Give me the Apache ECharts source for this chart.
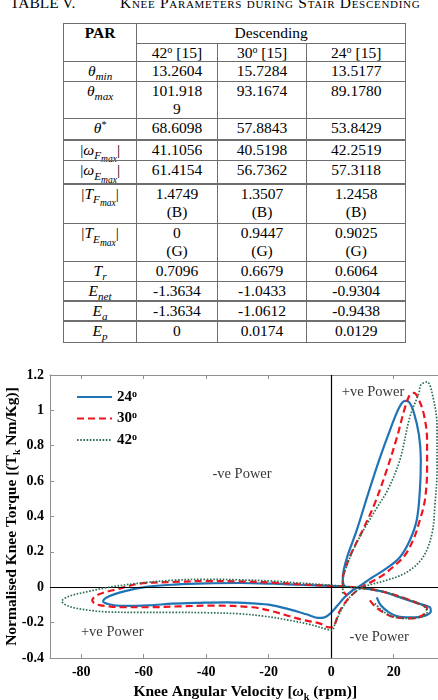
<!DOCTYPE html>
<html>
<head>
<meta charset="utf-8">
<script src="https://cdn.jsdelivr.net/npm/echarts@6/dist/echarts.min.js"></script>
<style>
html, body { margin: 0; padding: 0; width: 438px; height: 700px; overflow: hidden; background: #fff; }
body { position: relative; font-family: 'Liberation Serif', 'Times New Roman', serif; color: #000; }
.cap { position: absolute; top: -5px; font-family: 'Liberation Serif', serif; font-size: 15.5px; line-height: 15px; white-space: nowrap; }
.cell { position: absolute; box-sizing: border-box; border: 1.5px solid #6e6e6e; text-align: center; font-family: 'Liberation Serif', 'Times New Roman', serif; font-size: 15.5px; line-height: 18px; padding-top: 0.5px; white-space: pre-line; }
.cell i { font-style: italic; }
.cell sub { font-size: 72%; vertical-align: -0.4em; line-height: 0; }
.cell sub sub { font-size: 85%; vertical-align: -0.35em; }
.cell sup { font-size: 65%; vertical-align: 0.5em; line-height: 0; }
#chart { position: absolute; left: 0; top: 350px; width: 442px; height: 350px; }
</style>
</head>
<body>
<div class="cap" style="left:10px">TABLE V.</div>
<div class="cap" style="left:120px;font-variant:small-caps;letter-spacing:0.7px">Knee Parameters during Stair Descending</div>
<div id="tbl"></div>
<div id="chart"></div>
<script>
// ---- table data ----
const groupHead = 'Descending'
const colHeads = ['42', '30', '24']
const colRef = '[15]'
const params = [
	'<i>θ</i><sub><i>min</i></sub>',
	'<i>θ</i><sub><i>max</i></sub>',
	'<i>θ</i><sup>*</sup>',
	'|<i>ω</i><sub><i>F</i><sub><i>max</i></sub></sub>|',
	'|<i>ω</i><sub><i>E</i><sub><i>max</i></sub></sub>|',
	'|<i>T</i><sub><i>F</i><sub><i>max</i></sub></sub>|',
	'|<i>T</i><sub><i>E</i><sub><i>max</i></sub></sub>|',
	'<i>T</i><sub><i>r</i></sub>',
	'<i>E</i><sub><i>net</i></sub>',
	'<i>E</i><sub><i>a</i></sub>',
	'<i>E</i><sub><i>p</i></sub>'
]
const val42 = ['13.2604', '101.918\n9', '68.6098', '41.1056', '61.4154', '1.4749\n(B)', '0\n(G)', '0.7096', '-1.3634', '-1.3634', '0']
const val30 = ['15.7284', '93.1674', '57.8843', '40.5198', '56.7362', '1.3507\n(B)', '0.9447\n(G)', '0.6679', '-1.0433', '-1.0612', '0.0174']
const val24 = ['13.5177', '89.1780', '53.8429', '42.2519', '57.3118', '1.2458\n(B)', '0.9025\n(G)', '0.6064', '-0.9304', '-0.9438', '0.0129']

// ---- chart data: [angular velocity (rpm), normalised torque] ----
const angles = ['24', '30', '42']
const xTicks = [-80, -60, -40, -20, 0, 20]
const loop24 = [
	[14.6, -0.057], [15.9, -0.102], [18.5, -0.142], [22.0, -0.167], [26.8, -0.170], [30.3, -0.159], [31.9, -0.136],
	[31.6, -0.113], [27.8, -0.091], [22.0, -0.057], [17.2, -0.028], [12.4, -0.011], [9.1, -0.003], [4.3, 0.003],
	[-0.2, 0.008], [-10.1, 0.014], [-18.8, 0.020], [-29.4, 0.024], [-40.0, 0.022], [-50.2, 0.015], [-59.2, 0.002],
	[-66.3, -0.023], [-71.1, -0.051], [-73.0, -0.079], [-71.1, -0.096], [-66.9, -0.105], [-58.3, -0.102],
	[-50.9, -0.093], [-42.2, -0.088], [-33.5, -0.085], [-25.2, -0.091], [-18.8, -0.102], [-13.3, -0.125],
	[-7.9, -0.153], [-4.3, -0.173], [-2.1, -0.170], [-0.2, -0.147], [1.8, -0.108], [4.3, -0.057], [6.9, -0.017],
	[9.1, 0.006], [13.3, 0.057], [17.8, 0.108], [22.0, 0.170], [25.2, 0.266], [27.4, 0.380], [28.4, 0.550],
	[28.7, 0.720], [28.1, 0.861], [26.5, 0.986], [24.9, 1.048], [23.6, 1.054], [21.7, 1.014], [19.1, 0.901],
	[15.6, 0.731], [11.7, 0.521], [8.2, 0.323], [5.3, 0.181], [4.0, 0.096], [3.7, 0.040], [4.3, 0.000]
]
const loop30 = [
	[12.4, -0.074], [14.3, -0.113], [17.2, -0.147], [20.4, -0.170], [26.2, -0.176], [29.7, -0.153], [30.7, -0.119],
	[28.4, -0.096], [23.6, -0.062], [17.2, -0.028], [10.8, -0.006], [4.3, 0.004], [-0.5, 0.008], [-10.1, 0.017],
	[-18.8, 0.026], [-29.4, 0.033], [-40.0, 0.035], [-50.2, 0.030], [-61.4, 0.020], [-68.5, -0.011], [-74.3, -0.040],
	[-76.5, -0.074], [-75.3, -0.096], [-71.1, -0.108], [-66.9, -0.113], [-58.3, -0.113], [-48.6, -0.108],
	[-38.0, -0.104], [-25.2, -0.113], [-18.8, -0.136], [-13.3, -0.164], [-8.5, -0.187], [-3.7, -0.204],
	[-0.5, -0.227], [0.8, -0.221], [2.7, -0.136], [5.9, -0.057], [9.8, 0.0], [15.6, 0.057], [19.7, 0.113],
	[23.6, 0.181], [26.5, 0.278], [28.4, 0.380], [30.0, 0.493], [30.7, 0.663], [30.7, 0.833], [29.7, 0.975],
	[28.1, 1.059], [26.5, 1.099], [25.2, 1.088], [23.6, 1.014], [21.0, 0.844], [17.8, 0.663], [14.0, 0.476],
	[10.1, 0.323], [6.6, 0.198], [4.7, 0.113], [3.7, 0.040], [3.7, -0.017], [5.0, -0.045]
]
const loop42 = [
	[14.0, -0.091], [16.2, -0.130], [19.4, -0.164], [23.6, -0.176], [28.4, -0.170], [30.7, -0.142], [29.7, -0.108],
	[25.2, -0.074], [18.8, -0.034], [12.4, -0.011], [9.1, -0.006], [4.3, 0.006], [-0.5, 0.012], [-10.1, 0.024],
	[-18.8, 0.035], [-29.4, 0.042], [-40.0, 0.045], [-50.2, 0.040], [-61.4, 0.023], [-71.1, 0.0], [-77.5, -0.023],
	[-83.9, -0.051], [-86.2, -0.079], [-83.9, -0.108], [-77.5, -0.130], [-72.1, -0.139], [-61.4, -0.142],
	[-50.9, -0.142], [-40.0, -0.144], [-29.4, -0.150], [-21.3, -0.164], [-13.3, -0.187], [-6.9, -0.210],
	[-1.4, -0.238], [0.2, -0.244], [1.4, -0.198], [3.7, -0.113], [6.6, -0.045], [10.1, 0.0], [17.8, 0.040],
	[24.2, 0.085], [29.4, 0.170], [32.3, 0.306], [33.2, 0.465], [33.9, 0.663], [33.9, 0.907], [32.3, 1.099],
	[30.7, 1.161], [28.7, 1.144], [28.1, 1.099], [25.2, 0.963], [22.0, 0.720], [18.1, 0.550], [14.6, 0.448],
	[9.1, 0.283], [5.3, 0.136], [3.7, 0.023], [3.7, -0.045]
]
const noteText = ['+ve Power', '-ve Power', '+ve Power', '-ve Power']
const noteX = [3.4, -38.0, -80.1, 5.9]
const noteY = [1.105, 0.64, -0.255, -0.28]

// ---- build table ----
const colEdges = [63.5, 136.7, 217.3, 306.7, 405.7]
const rowEdges = [23.3, 43.3, 61.7, 81.7, 118.7, 140, 160.7, 184, 223.3, 261.7, 281.7, 301, 321, 342.3]
const tbl = document.getElementById('tbl')
const addCell = (html, c0, c1, r0, r1, extra) => {
	const d = document.createElement('div')
	d.className = 'cell'
	d.style.left = colEdges[c0] - 0.75 + 'px'
	d.style.top = rowEdges[r0] - 0.75 + 'px'
	d.style.width = colEdges[c1] - colEdges[c0] + 1.5 + 'px'
	d.style.height = rowEdges[r1] - rowEdges[r0] + 1.5 + 'px'
	if (extra) d.style.cssText += extra
	d.innerHTML = '<span>' + html + '</span>'
	tbl.appendChild(d)
}
addCell('PAR', 0, 1, 0, 2, 'font-weight:bold;')
addCell(groupHead, 1, 4, 0, 1)
colHeads.forEach((h, i) => addCell(h + '<sup>o</sup> ' + colRef, i + 1, i + 2, 1, 2))
params.forEach((p, r) => {
	addCell(p, 0, 1, r + 2, r + 3)
	;[val42, val30, val24].forEach((col, c) => addCell(col[r], c + 1, c + 2, r + 2, r + 3))
})

// ---- chart ----
const serif = "'Liberation Serif', 'Times New Roman', serif"
const axisGray = '#8f8f8f'
const myChart = echarts.init(document.getElementById('chart'), null, { renderer: 'canvas' })

const loops = [loop24, loop30, loop42]
const lineStyles = [
	{ color: '#1f74b6', width: 2.2, type: 'solid' },
	{ color: '#f0141e', width: 2.2, type: [7, 4] },
	{ color: '#2c6e55', width: 1.7, type: [1.6, 1.6] }
]

const series = loops.map((loop, i) => ({
	name: angles[i],
	type: 'line',
	data: loop,
	smooth: 0.35,
	symbol: 'none',
	lineStyle: lineStyles[i],
	itemStyle: { color: lineStyles[i].color },
	z: 3 + i
}))

// zero reference lines
series[0].markLine = {
	silent: true,
	symbol: ['none', 'none'],
	label: { show: false },
	lineStyle: { color: '#000', width: 1.2, type: 'solid' },
	data: [{ xAxis: 0 }, { yAxis: 0 }]
}

series.push({
	name: 'notes',
	type: 'scatter',
	symbolSize: 0,
	silent: true,
	data: noteText.map((t, i) => ({ value: [noteX[i], noteY[i]], name: t })),
	label: {
		show: true,
		position: 'right',
		distance: 0,
		formatter: p => p.name,
		fontFamily: serif,
		fontSize: 14.5,
		color: '#000'
	}
})

const option = {
	animation: false,
	backgroundColor: '#fff',
	grid: { left: 50, right: 1.5, top: 25, bottom: 42, outerBoundsMode: 'none', containLabel: false },
	legend: {
		data: angles,
		orient: 'vertical',
		left: 71,
		top: 34,
		itemWidth: 35,
		itemHeight: 14,
		itemGap: 6,
		itemStyle: { opacity: 0 },
		formatter: n => '{a|' + n + '}{o|o}',
		textStyle: {
			rich: {
				a: { fontFamily: serif, fontSize: 15, fontWeight: 'bold', color: '#000', lineHeight: 16 },
				o: { fontFamily: serif, fontSize: 10, fontWeight: 'bold', color: '#000', verticalAlign: 'top', lineHeight: 10 }
			}
		}
	},
	xAxis: [
		{
			type: 'value',
			min: -90,
			max: 35,
			name: '{b|Knee Angular Velocity [}{w|ω}{k|k}{b| (rpm)]}',
			nameLocation: 'middle',
			nameGap: 24,
			nameMoveOverlap: false,
			nameTextStyle: {
				rich: {
					b: { fontFamily: serif, fontSize: 15.5, fontWeight: 'bold', color: '#000', lineHeight: 20 },
					w: { fontFamily: serif, fontSize: 15.5, fontStyle: 'italic', fontWeight: 'bold', color: '#000', lineHeight: 20 },
					k: { fontFamily: serif, fontSize: 10, fontWeight: 'bold', color: '#000', verticalAlign: 'bottom', lineHeight: 10 }
				}
			},
			splitLine: { show: false },
			axisLine: { onZero: false, lineStyle: { color: axisGray, width: 1 } },
			axisTick: { inside: true, length: 4, customValues: xTicks, lineStyle: { color: axisGray } },
			axisLabel: { customValues: xTicks, margin: 7, fontFamily: serif, fontSize: 14, fontWeight: 'bold', color: '#000' }
		},
		{
			type: 'value',
			position: 'top',
			min: -90,
			max: 35,
			splitLine: { show: false },
			axisLine: { onZero: false, lineStyle: { color: axisGray, width: 1 } },
			axisTick: { inside: true, length: 4, customValues: xTicks, lineStyle: { color: axisGray } },
			axisLabel: { show: false }
		}
	],
	yAxis: {
		type: 'value',
		min: -0.4,
		max: 1.2,
		interval: 0.2,
		name: '{b|Normalised Knee Torque [(T}{k|k}{b| Nm/Kg)]}',
		nameLocation: 'middle',
		nameGap: 28,
		nameMoveOverlap: false,
		nameTextStyle: {
			rich: {
				b: { fontFamily: serif, fontSize: 15.5, fontWeight: 'bold', color: '#000', lineHeight: 20 },
				k: { fontFamily: serif, fontSize: 10, fontWeight: 'bold', color: '#000', verticalAlign: 'bottom', lineHeight: 10 }
			}
		},
		splitLine: { show: false },
		axisLine: { show: true, onZero: false, lineStyle: { color: axisGray, width: 1 } },
		axisTick: { show: true, inside: true, length: 4, lineStyle: { color: axisGray } },
		axisLabel: { margin: 6, fontFamily: serif, fontSize: 14, fontWeight: 'bold', color: '#000' }
	},
	series
}

myChart.setOption(option)
</script>
</body>
</html>
